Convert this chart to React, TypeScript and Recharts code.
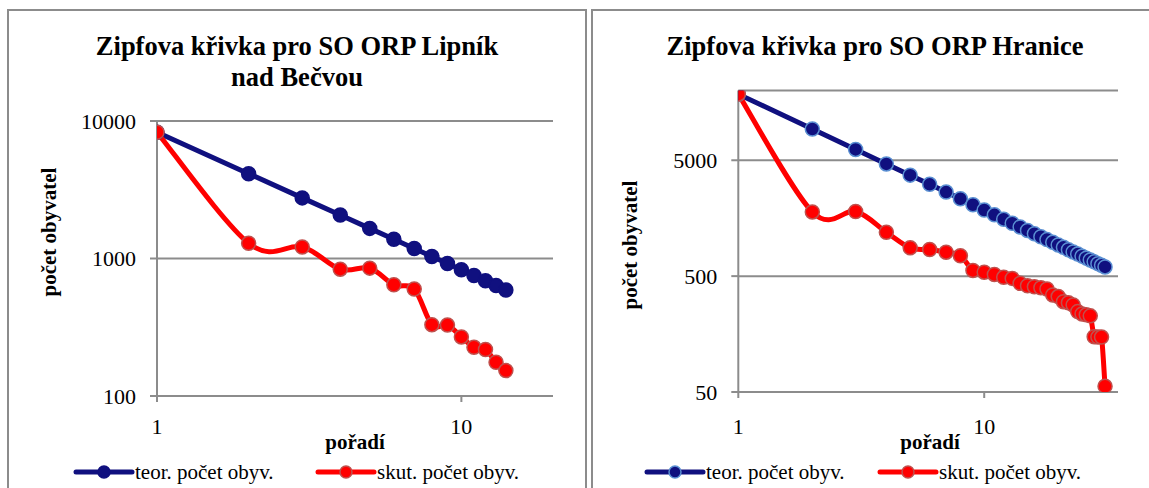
import React from 'react';
import { LineChart, Line, XAxis, YAxis, CartesianGrid } from 'recharts';

// ---------- data ----------
const lipnikRanks = [1, 2, 3, 4, 5, 6, 7, 8, 9, 10, 11, 12, 13, 14];
const lipnikTeor = [8280, 4140, 2760, 2070, 1656, 1380, 1183, 1035, 920, 828, 753, 690, 637, 591];
const lipnikSkut = [8280, 1291, 1213, 836, 851, 644, 600, 330, 328, 269, 226, 218, 176, 153];

const hraniceRanks = [
  1, 2, 3, 4, 5, 6, 7, 8, 9, 10, 11, 12, 13, 14, 15, 16, 17, 18, 19, 20, 21, 22, 23, 24, 25, 26, 27, 28, 29, 30, 31,
];
const hraniceTeor = [
  18600, 9300, 6200, 4650, 3720, 3100, 2657, 2325, 2067, 1860, 1691, 1550, 1431, 1329, 1240, 1163, 1094, 1033, 979,
  930, 886, 845, 809, 775, 744, 715, 689, 664, 641, 620, 600,
];
const hraniceSkut = [
  18600, 1790, 1806, 1195, 877, 848, 805, 750, 560, 541, 517, 488, 478, 433, 413, 405, 397, 387, 344, 333, 301, 295,
  282, 247, 236, 232, 227, 150, 149, 149, 56,
];

const xTicks = [1, 10];
const lipnikYTicks = [100, 1000, 10000];
const hraniceYTicks = [50, 500, 5000];

const seriesNames = ['teor. počet obyv.', 'skut. počet obyv.'];
const lipnikTitle = ['Zipfova křivka pro SO ORP Lipník', 'nad Bečvou'];
const hraniceTitle = ['Zipfova křivka pro SO ORP Hranice'];
const xTitle = 'pořadí';
const yTitle = 'počet obyvatel';

// ---------- styles ----------
const SERIF = "'Liberation Serif', Tinos, 'Times New Roman', Times, 'DejaVu Serif', serif";
const NAVY = '#10107f';
const RED = '#ff0000';
const RED_EDGE = '#c0504d';
const LIGHT_BLUE = '#5a8fd2';
const GRID = '#8c8c8c';

// Excel-like smoothed line (Catmull-Rom through the scaled points)
function excelSmooth(context: any) {
  let pts: number[][] = [];
  return {
    areaStart() {},
    areaEnd() {},
    lineStart() {
      pts = [];
    },
    point(x: number, y: number) {
      pts.push([+x, +y]);
    },
    lineEnd() {
      const n = pts.length;
      if (!n) return;
      context.moveTo(pts[0][0], pts[0][1]);
      if (n === 1) return;
      const t = 1 / 6;
      for (let i = 0; i < n - 1; i++) {
        const p0 = pts[Math.max(0, i - 1)];
        const p1 = pts[i];
        const p2 = pts[i + 1];
        const p3 = pts[Math.min(n - 1, i + 2)];
        context.bezierCurveTo(
          p1[0] + (p2[0] - p0[0]) * t,
          p1[1] + (p2[1] - p0[1]) * t,
          p2[0] - (p3[0] - p1[0]) * t,
          p2[1] - (p3[1] - p1[1]) * t,
          p2[0],
          p2[1]
        );
      }
    },
  };
}

type PanelProps = {
  data: { rank: number; teor: number; skut: number }[];
  left: number;
  width: number;
  margin: { top: number; right: number; bottom: number; left: number };
  xDomain: number[];
  yDomain: number[];
  yTicks: number[];
  xTickMargin: number;
  blueEdge: string;
};

const tickStyle = { fontSize: 22, fill: '#000', fontFamily: SERIF, style: { fontFamily: SERIF } };

function Panel(p: PanelProps) {
  return (
    <div style={{ position: 'absolute', left: p.left, top: 0, width: p.width, height: 488 }}>
      <LineChart width={p.width} height={488} data={p.data} margin={p.margin}>
        <CartesianGrid vertical={false} stroke={GRID} strokeWidth={2} />
        <XAxis
          dataKey="rank"
          type="number"
          scale="log"
          domain={p.xDomain}
          ticks={xTicks}
          allowDataOverflow
          height={30}
          tickSize={6}
          tickMargin={p.xTickMargin}
          axisLine={{ stroke: GRID, strokeWidth: 2 }}
          tickLine={{ stroke: GRID, strokeWidth: 2 }}
          tick={tickStyle}
        />
        <YAxis
          type="number"
          scale="log"
          domain={p.yDomain}
          ticks={p.yTicks}
          allowDataOverflow
          width={60}
          tickSize={7}
          tickMargin={14}
          axisLine={{ stroke: GRID, strokeWidth: 2 }}
          tickLine={{ stroke: GRID, strokeWidth: 2 }}
          tick={tickStyle}
        />
        <Line
          dataKey="teor"
          type="linear"
          stroke={NAVY}
          strokeWidth={5}
          dot={{ r: 7, fill: NAVY, stroke: p.blueEdge, strokeWidth: 1.5 }}
          activeDot={false}
          isAnimationActive={false}
        />
        <Line
          dataKey="skut"
          type={excelSmooth as any}
          stroke={RED}
          strokeWidth={5}
          dot={{ r: 7, fill: RED, stroke: RED_EDGE, strokeWidth: 1.5 }}
          activeDot={false}
          isAnimationActive={false}
        />
      </LineChart>
    </div>
  );
}

const textStyle = { fontFamily: SERIF };

function LegendItem({ x, color, edge, label }: { x: number; color: string; edge: string; label: string }) {
  return (
    <g>
      <line x1={x} y1={472} x2={x + 56} y2={472} stroke={color} strokeWidth={5} strokeLinecap="round" />
      <circle cx={x + 28} cy={472} r={6} fill={color} stroke={edge} strokeWidth={1.5} />
      <text x={x + 59} y={479} fontSize={21} style={textStyle} fill="#000">
        {label}
      </text>
    </g>
  );
}

export default function App() {
  const lipnikData = lipnikRanks.map((r, i) => ({ rank: r, teor: lipnikTeor[i], skut: lipnikSkut[i] }));
  const hraniceData = hraniceRanks.map((r, i) => ({ rank: r, teor: hraniceTeor[i], skut: hraniceSkut[i] }));

  return (
    <div
      style={{
        position: 'absolute',
        left: 0,
        top: 0,
        width: 1149,
        height: 488,
        background: '#fff',
        overflow: 'hidden',
        fontFamily: SERIF,
      }}
    >
      <Panel
        data={lipnikData}
        left={0}
        width={586}
        margin={{ top: 121, right: 33, bottom: 62, left: 97 }}
        xDomain={[1, 20]}
        yDomain={[100, 10000]}
        yTicks={lipnikYTicks}
        xTickMargin={16}
        blueEdge={NAVY}
      />
      <Panel
        data={hraniceData}
        left={592}
        width={557}
        margin={{ top: 90.5, right: 31, bottom: 66, left: 86.3 }}
        xDomain={[1, 35]}
        yDomain={[50, 20000]}
        yTicks={hraniceYTicks}
        xTickMargin={20}
        blueEdge={LIGHT_BLUE}
      />
      <svg width={1149} height={488} style={{ position: 'absolute', left: 0, top: 0, pointerEvents: 'none' }}>
        {/* chart frames */}
        <rect x={8} y={10} width={578} height={500} fill="none" stroke={GRID} strokeWidth={2} />
        <rect x={592} y={10} width={600} height={500} fill="none" stroke={GRID} strokeWidth={2} />

        {/* titles */}
        <text x={297} y={55} textAnchor="middle" fontSize={26.5} fontWeight="bold" style={textStyle} fill="#000">
          {lipnikTitle[0]}
        </text>
        <text x={297} y={86} textAnchor="middle" fontSize={26.5} fontWeight="bold" style={textStyle} fill="#000">
          {lipnikTitle[1]}
        </text>
        <text x={875} y={55} textAnchor="middle" fontSize={26.5} fontWeight="bold" style={textStyle} fill="#000">
          {hraniceTitle[0]}
        </text>

        {/* y axis titles */}
        <text
          transform="translate(49,232) rotate(-90)"
          textAnchor="middle"
          dominantBaseline="central"
          fontSize={21}
          fontWeight="bold"
          style={textStyle}
          fill="#000"
        >
          {yTitle}
        </text>
        <text
          transform="translate(630,245) rotate(-90)"
          textAnchor="middle"
          dominantBaseline="central"
          fontSize={21}
          fontWeight="bold"
          style={textStyle}
          fill="#000"
        >
          {yTitle}
        </text>

        {/* x axis titles */}
        <text x={355} y={449} textAnchor="middle" fontSize={21} fontWeight="bold" style={textStyle} fill="#000">
          {xTitle}
        </text>
        <text x={930} y={449} textAnchor="middle" fontSize={21} fontWeight="bold" style={textStyle} fill="#000">
          {xTitle}
        </text>

        {/* legends */}
        <LegendItem x={76} color={NAVY} edge={NAVY} label={seriesNames[0]} />
        <LegendItem x={318} color={RED} edge={RED_EDGE} label={seriesNames[1]} />
        <LegendItem x={647} color={NAVY} edge={LIGHT_BLUE} label={seriesNames[0]} />
        <LegendItem x={880} color={RED} edge={RED_EDGE} label={seriesNames[1]} />
      </svg>
    </div>
  );
}
